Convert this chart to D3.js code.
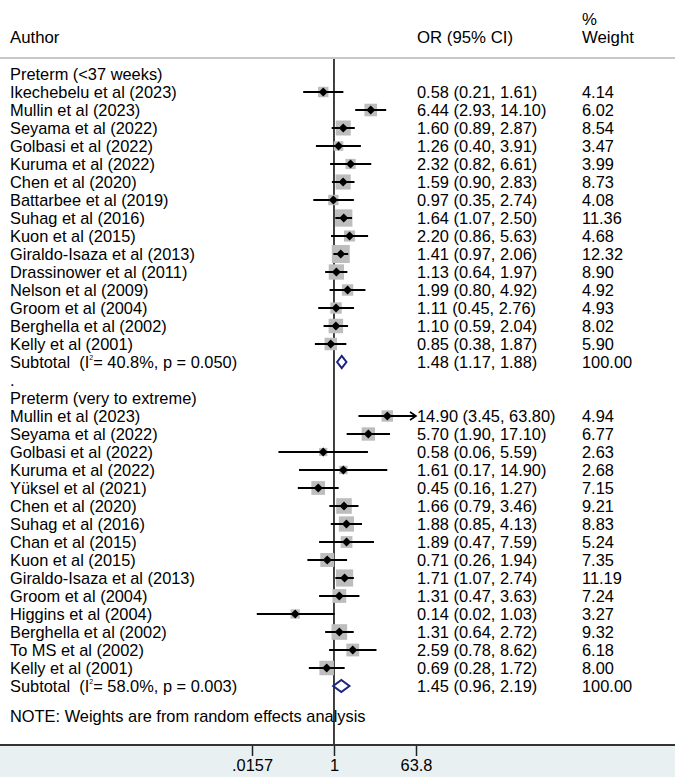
<!DOCTYPE html>
<html><head><meta charset="utf-8">
<script src="https://cdn.jsdelivr.net/npm/d3@7"></script>
<style>body{margin:0;background:#fff}svg{display:block}text{font-family:"Liberation Sans",Arial,sans-serif;fill:#000}</style>
</head><body>
<script>
const group1Title = "Preterm (<37 weeks)";
const group1Authors = ["Ikechebelu et al (2023)","Mullin et al (2023)","Seyama et al (2022)","Golbasi et al (2022)","Kuruma et al (2022)","Chen et al (2020)","Battarbee et al (2019)","Suhag et al (2016)","Kuon et al (2015)","Giraldo-Isaza et al (2013)","Drassinower et al (2011)","Nelson et al (2009)","Groom et al (2004)","Berghella et al (2002)","Kelly et al (2001)"];
const group1OR = [0.58,6.44,1.60,1.26,2.32,1.59,0.97,1.64,2.20,1.41,1.13,1.99,1.11,1.10,0.85];
const group1Lo = [0.21,2.93,0.89,0.40,0.82,0.90,0.35,1.07,0.86,0.97,0.64,0.80,0.45,0.59,0.38];
const group1Hi = [1.61,14.10,2.87,3.91,6.61,2.83,2.74,2.50,5.63,2.06,1.97,4.92,2.76,2.04,1.87];
const group1W = [4.14,6.02,8.54,3.47,3.99,8.73,4.08,11.36,4.68,12.32,8.90,4.92,4.93,8.02,5.90];
const group1Sub = {i2:"40.8%", p:"0.050", or:1.48, lo:1.17, hi:1.88, w:100.00};

const group2Title = "Preterm (very to extreme)";
const group2Authors = ["Mullin et al (2023)","Seyama et al (2022)","Golbasi et al (2022)","Kuruma et al (2022)","Yüksel et al (2021)","Chen et al (2020)","Suhag et al (2016)","Chan et al (2015)","Kuon et al (2015)","Giraldo-Isaza et al (2013)","Groom et al (2004)","Higgins et al (2004)","Berghella et al (2002)","To MS et al (2002)","Kelly et al (2001)"];
const group2OR = [14.90,5.70,0.58,1.61,0.45,1.66,1.88,1.89,0.71,1.71,1.31,0.14,1.31,2.59,0.69];
const group2Lo = [3.45,1.90,0.06,0.17,0.16,0.79,0.85,0.47,0.26,1.07,0.47,0.02,0.64,0.78,0.28];
const group2Hi = [63.80,17.10,5.59,14.90,1.27,3.46,4.13,7.59,1.94,2.74,3.63,1.03,2.72,8.62,1.72];
const group2W = [4.94,6.77,2.63,2.68,7.15,9.21,8.83,5.24,7.35,11.19,7.24,3.27,9.32,6.18,8.00];
const group2Sub = {i2:"58.0%", p:"0.003", or:1.45, lo:0.96, hi:2.19, w:100.00};

const tickValues = [0.0157, 1, 63.8];
const tickLabels = [".0157", "1", "63.8"];
const headers = {author:"Author", or:"OR (95% CI)", w1:"%", w2:"Weight"};
const note = "NOTE: Weights are from random effects analysis";

const W = 675, H = 777;
const svg = d3.select("body").append("svg").attr("width", W).attr("height", H);
const fmt = d3.format(".2f");

const x = d3.scaleLog().domain([tickValues[0], tickValues[2]]).range([252, 416]);
const y = d3.scaleLinear().domain([0, 1]).range([74, 92]);
const boxSide = d3.scaleSqrt().domain([0, 12.32]).range([0, 18]);

const rows = [];
function addGroup(title, authors, ors, los, his, ws, sub, start) {
  rows.push({type:"title", label:title, idx:start});
  authors.forEach((a,i)=>rows.push({type:"study", label:a, or:ors[i], lo:los[i], hi:his[i], w:ws[i], idx:start+1+i}));
  rows.push({type:"sub", sub, or:sub.or, lo:sub.lo, hi:sub.hi, w:sub.w, idx:start+1+authors.length});
  return start+2+authors.length;
}
let next = addGroup(group1Title, group1Authors, group1OR, group1Lo, group1Hi, group1W, group1Sub, 0);
rows.push({type:"dot", label:".", idx:next});
next = addGroup(group2Title, group2Authors, group2OR, group2Lo, group2Hi, group2W, group2Sub, next+1);

svg.append("rect").attr("x",0).attr("y",745).attr("width",W).attr("height",H-745).attr("fill","#e9f0f2");
svg.append("line").attr("x1",0).attr("x2",W).attr("y1",58).attr("y2",58).attr("stroke","#c8c8c8").attr("stroke-width",2);

const fs = 16.4, hfs = 16.8;
svg.append("text").attr("x",10).attr("y",43).attr("font-size",hfs).text(headers.author);
svg.append("text").attr("x",417).attr("y",43).attr("font-size",hfs).text(headers.or);
svg.append("text").attr("x",582).attr("y",25).attr("font-size",hfs).text(headers.w1);
svg.append("text").attr("x",582).attr("y",43).attr("font-size",hfs).text(headers.w2);

svg.append("line").attr("x1",x(1)).attr("x2",x(1)).attr("y1",59).attr("y2",745).attr("stroke","#111").attr("stroke-width",1.6);

const g = svg.append("g");
rows.forEach(r=>{
  const cy = y(r.idx);
  const ty = cy + 6;
  if (r.type==="title" || r.type==="dot") {
    g.append("text").attr("x",10).attr("y",ty).attr("font-size",fs).text(r.label);
    return;
  }
  if (r.type==="study") {
    g.append("text").attr("x",10).attr("y",ty).attr("font-size",fs).text(r.label);
    const s = boxSide(r.w);
    g.append("rect").attr("x",x(r.or)-s/2).attr("y",cy-s/2).attr("width",s).attr("height",s).attr("fill","#bdbdbd");
    const xhi = Math.min(x(r.hi), x.range()[1]);
    g.append("line").attr("x1",x(r.lo)).attr("x2",xhi).attr("y1",cy).attr("y2",cy).attr("stroke","#000").attr("stroke-width",2);
    if (r.hi >= tickValues[2]) {
      g.append("path").attr("d",`M${xhi-6},${cy-4}L${xhi},${cy}L${xhi-6},${cy+4}`).attr("fill","none").attr("stroke","#000").attr("stroke-width",1.6);
    }
    const m = 4.5, cx = x(r.or);
    g.append("path").attr("d",`M${cx-m},${cy}L${cx},${cy-m}L${cx+m},${cy}L${cx},${cy+m}Z`).attr("fill","#000");
  } else {
    const t = g.append("text").attr("x",10).attr("y",ty).attr("font-size",fs).attr("xml:space","preserve");
    t.append("tspan").text("Subtotal  (I");
    t.append("tspan").attr("font-size",7).attr("dy",-8).text("2");
    t.append("tspan").attr("dy",8).text(`= ${r.sub.i2}, p = ${r.sub.p})`);
    const h = 6;
    g.append("path").attr("d",`M${x(r.lo)},${cy}L${x(r.or)},${cy-h}L${x(r.hi)},${cy}L${x(r.or)},${cy+h}Z`)
      .attr("fill","none").attr("stroke","#1a2380").attr("stroke-width",2);
  }
  g.append("text").attr("x",417).attr("y",ty).attr("font-size",fs)
    .text(`${fmt(r.or)} (${fmt(r.lo)}, ${fmt(r.hi)})`);
  g.append("text").attr("x",582).attr("y",ty).attr("font-size",fs).text(fmt(r.w));
});

svg.append("text").attr("x",10).attr("y",y(35.65)+6).attr("font-size",fs).text(note);

const axis = d3.axisBottom(x).tickValues(tickValues).tickSize(11).tickPadding(3)
  .tickFormat((d,i)=>tickLabels[i]);
const ax = svg.append("g").attr("transform","translate(0,745)").call(axis);
ax.select(".domain").remove();
ax.selectAll(".tick line").attr("stroke","#222").attr("stroke-width",1.5);
ax.selectAll(".tick text").attr("font-size",fs).attr("font-family","Liberation Sans, Arial, sans-serif").attr("fill","#000");
svg.append("line").attr("x1",0).attr("x2",W).attr("y1",745).attr("y2",745).attr("stroke","#333").attr("stroke-width",2);
</script>
</body></html>
